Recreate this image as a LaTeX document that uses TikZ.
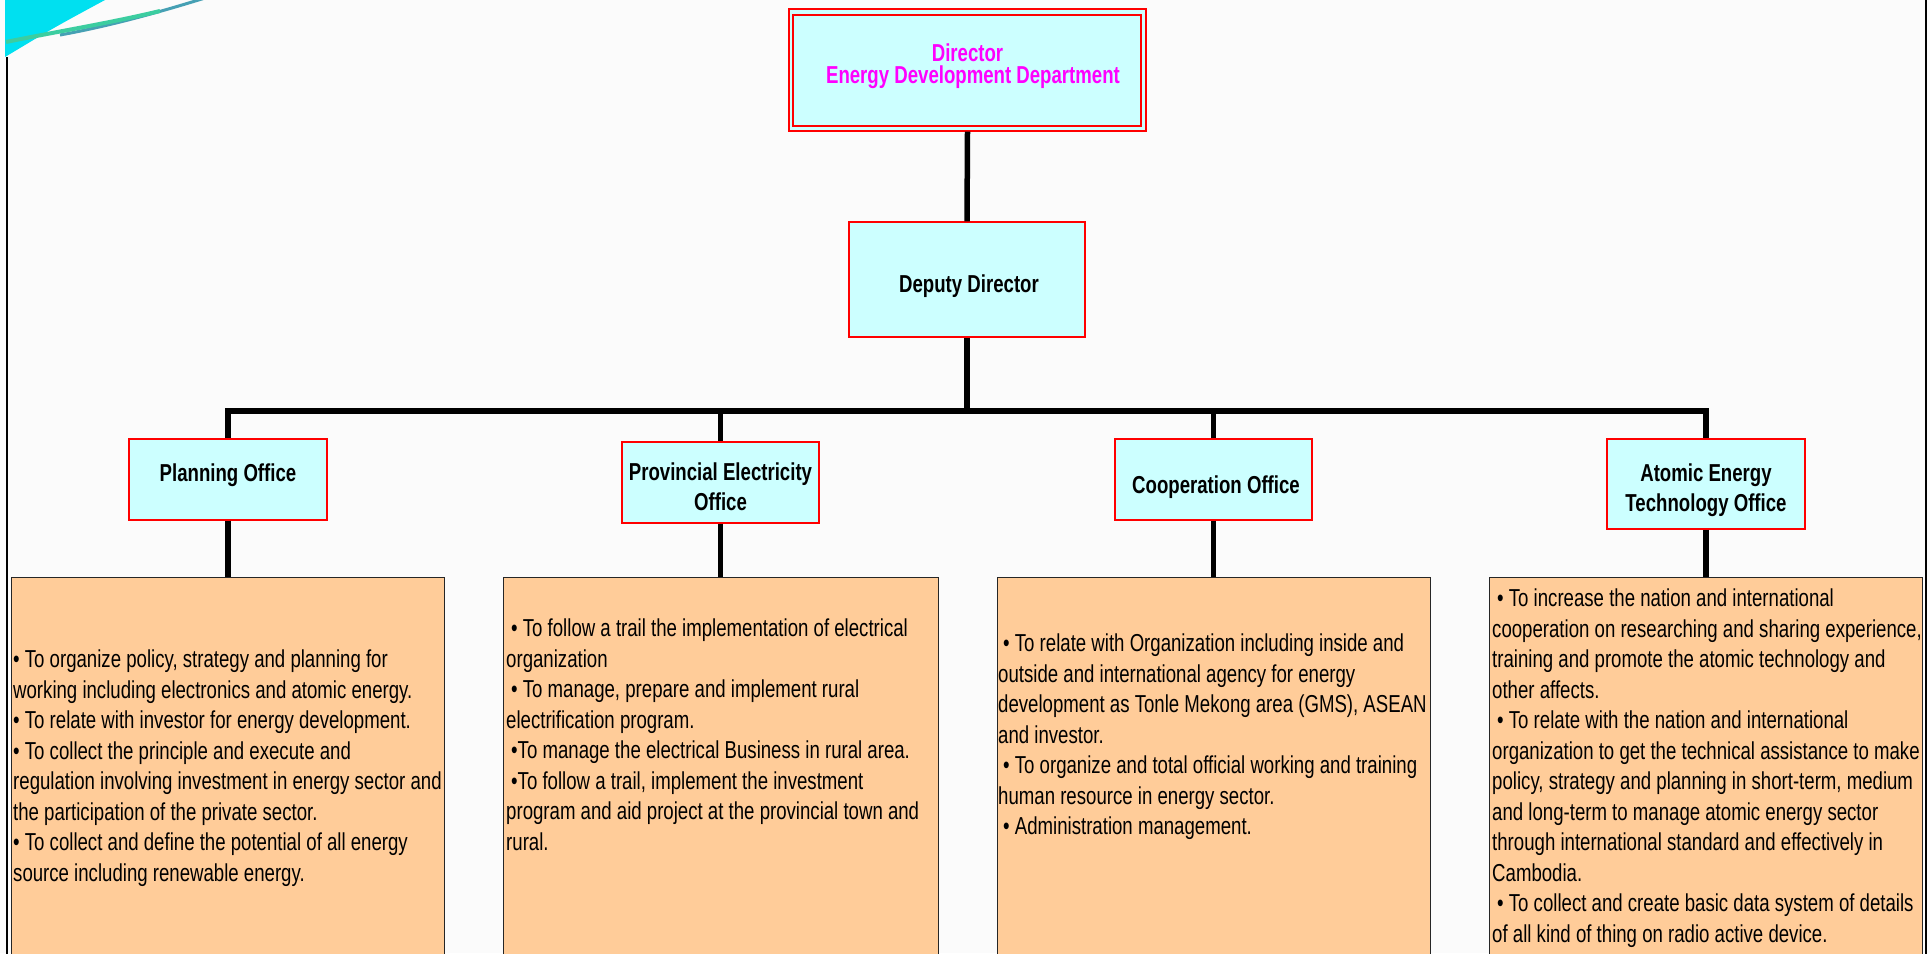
\documentclass[tikz,border=0pt]{standalone}
\usepackage{fontspec}
\setmainfont{Liberation Sans}[FakeStretch=0.76]
\definecolor{cyanlt}{RGB}{204,255,255}
\definecolor{peach}{RGB}{255,204,153}
\definecolor{magen}{RGB}{255,0,255}
\definecolor{bggray}{RGB}{251,251,251}
\definecolor{orncyan}{RGB}{0,224,240}
\definecolor{ogreen}{RGB}{60,205,160}
\definecolor{oteal}{RGB}{70,160,180}
\begin{document}
\begin{tikzpicture}[x=1pt,y=-1pt,
  hbox/.style={draw=red, line width=1.4pt, fill=cyanlt, inner sep=0pt},
  obox/.style={draw=black!85, line width=1.2pt, fill=peach, inner sep=0pt, anchor=north west},
  htext/.style={font=\fontsize{24.5}{30}\selectfont\bfseries, align=center, anchor=north, inner sep=0pt},
  btext/.style={font=\fontsize{24.5}{30.5}\selectfont, align=left, anchor=north west, inner sep=0pt},
  conn/.style={line width=5.5pt, black}]
\useasboundingbox (0,0) rectangle (1930,953);
\clip (0,0) rectangle (1930,953);
\fill[bggray] (0,0) rectangle (1930,953);
% ornament and frame
\fill[orncyan] (5,0) -- (105,0) .. controls (55,27) .. (5,57) -- cycle;
\draw[line width=3pt, oteal] (60,35) .. controls (110,26) and (160,12) .. (205,-2);
\draw[line width=4pt, ogreen] (6,42) .. controls (60,31) and (110,23) .. (160,11);
\draw[line width=1.5pt] (7,57) -- (7,960);
\draw[line width=1.5pt] (1926,-5) -- (1926,960);
% header boxes
\node[hbox, minimum width=357, minimum height=122] (dir) at (967.5,70) {};
\node[draw=red, line width=1.4pt, minimum width=348, minimum height=111, inner sep=0pt] (dirin) at (967,70.5) {};
\node[htext, text=magen, font=\fontsize{24.5}{22}\selectfont\bfseries] (dirtxt) at (967.5,43.5) {Director\\\hspace*{11pt}Energy Development Department};
\node[hbox, minimum width=236, minimum height=115] (dep) at (967,279.5) {};
\node[htext] (deptxt) at (969,275) {Deputy Director};
\node[hbox, minimum width=198, minimum height=81] (plan) at (228,479.5) {};
\node[htext] (plantxt) at (228,464) {Planning Office};
\node[hbox, minimum width=197, minimum height=81] (prov) at (720.5,482.5) {};
\node[htext] (provtxt) at (720.5,463) {Provincial Electricity\\Office};
\node[hbox, minimum width=197, minimum height=81] (coop) at (1213.5,479.5) {};
\node[htext] (cooptxt) at (1216,476) {Cooperation Office};
\node[hbox, minimum width=198, minimum height=90] (atom) at (1706,484) {};
\node[htext] (atomtxt) at (1706,464) {Atomic Energy\\Technology Office};
% duty boxes
\node[obox, minimum width=433, minimum height=430] (b1) at (11,577) {};
\node[obox, minimum width=435, minimum height=430] (b2) at (503,577) {};
\node[obox, minimum width=433, minimum height=430] (b3) at (997,577) {};
\node[obox, minimum width=433, minimum height=430] (b4) at (1489,577) {};
\node[btext] (b1txt) at (13,650) {•\ To organize policy, strategy and planning for\\
working including electronics and atomic energy.\\
•\ To relate with investor for energy development.\\
•\ To collect the principle and execute and\\
regulation involving investment in energy sector and\\
the participation of the private sector.\\
•\ To collect and define the potential of all energy\\
source including renewable energy.};
\node[btext] (b2txt) at (506,619) {\hspace*{5pt}•\ To follow a trail the implementation of electrical\\
organization\\
\hspace*{5pt}•\ To manage, prepare and implement rural\\
electrification program.\\
\hspace*{5pt}•To manage the electrical Business in rural area.\\
\hspace*{5pt}•To follow a trail, implement the investment\\
program and aid project at the provincial town and\\
rural.};
\node[btext] (b3txt) at (998,634) {\hspace*{5pt}•\ To relate with Organization including inside and\\
outside and international agency for energy\\
development as Tonle Mekong area (GMS), ASEAN\\
and investor.\\
\hspace*{5pt}•\ To organize and total official working and training\\
human resource in energy sector.\\
\hspace*{5pt}•\ Administration management.};
\node[btext] (b4txt) at (1492,589) {\hspace*{5pt}•\ To increase the nation and international\\
cooperation on researching and sharing experience,\\
training and promote the atomic technology and\\
other affects.\\
\hspace*{5pt}•\ To relate with the nation and international\\
organization to get the technical assistance to make\\
policy, strategy and planning in short-term, medium\\
and long-term to manage atomic energy sector\\
through international standard and effectively in\\
Cambodia.\\
\hspace*{5pt}•\ To collect and create basic data system of details\\
of all kind of thing on radio active device.};
% connectors
\coordinate (bus) at (967,411);
\draw[conn] (dir.south) -- (dep.north);
\draw[conn] (dep.south) -- (bus);
\draw[conn] (plan.north) |- (bus) -| (atom.north);
\draw[conn] (prov.north) -- (prov.north |- bus);
\draw[conn] (coop.north) -- (coop.north |- bus);
\draw[conn] (plan.south) -- (plan.south |- b1.north);
\draw[conn] (prov.south) -- (prov.south |- b2.north);
\draw[conn] (coop.south) -- (coop.south |- b3.north);
\draw[conn] (atom.south) -- (atom.south |- b4.north);
\end{tikzpicture}
\end{document}
